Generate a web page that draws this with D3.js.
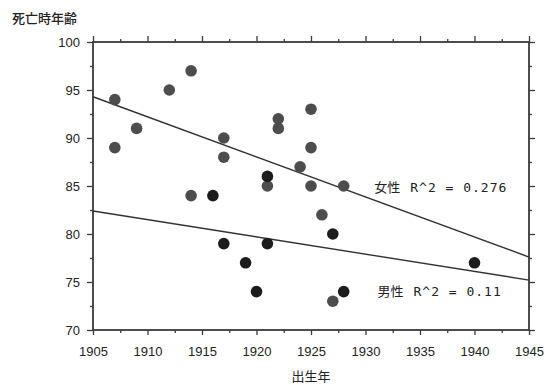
<!DOCTYPE html>
<html>
<head>
<meta charset="utf-8">
<script src="https://cdn.jsdelivr.net/npm/d3@7"></script>
<style>
  body { margin: 0; background: #fff; }
  svg { display: block; }
</style>
</head>
<body>
<svg id="chart" width="547" height="385"></svg>
<script>
// birth year / age at death
const femaleYears = [1907, 1907, 1909, 1912, 1914, 1914, 1917, 1917, 1921, 1922, 1922, 1924, 1925, 1925, 1925, 1926, 1928, 1927];
const femaleAges  = [94, 89, 91, 95, 97, 84, 90, 88, 85, 92, 91, 87, 93, 89, 85, 82, 85, 73];
const maleYears = [1916, 1917, 1919, 1920, 1921, 1921, 1927, 1928, 1940];
const maleAges  = [84, 79, 77, 74, 86, 79, 80, 74, 77];

// fitted trend lines (value at 1905 and 1945)
const fitYears = [1905, 1945];
const femaleFit = [94.3, 77.6];
const maleFit = [82.4, 75.2];

const xTicks = [1905, 1910, 1915, 1920, 1925, 1930, 1935, 1940, 1945];
const yTicks = [70, 75, 80, 85, 90, 95, 100];

const svg = d3.select("#chart");
const fontTick = "'Liberation Sans', Arial, sans-serif";
const fontCJK = "'Noto Sans CJK JP', sans-serif";

const x = d3.scaleLinear().domain([1905, 1945]).range([93, 529]);
const y = d3.scaleLinear().domain([70, 100]).range([330, 42]);

const axisColor = "#3a3a3a";

// minor ticks every 2.5 units, majors every 5
const xMinor = d3.range(1905, 1945.1, 2.5).filter(v => v % 5 !== 0);
const yMinor = d3.range(70, 100.1, 2.5).filter(v => v % 5 !== 0);

const styleAxis = (g) => {
  g.select(".domain").remove();
  g.selectAll("line").attr("stroke", axisColor).attr("stroke-width", 1.3);
  g.selectAll("text")
    .attr("font-family", fontTick)
    .attr("font-size", 13)
    .attr("fill", "#222");
};

// bottom
svg.append("g")
  .attr("transform", `translate(0,${y(70)})`)
  .call(d3.axisBottom(x).tickValues(xTicks).tickFormat(d3.format("d")).tickSize(5).tickPadding(12))
  .call(styleAxis);
svg.append("g")
  .attr("transform", `translate(0,${y(70)})`)
  .call(d3.axisBottom(x).tickValues(xMinor).tickFormat("").tickSize(3))
  .call(styleAxis);

// top
svg.append("g")
  .attr("transform", `translate(0,${y(100)})`)
  .call(d3.axisTop(x).tickValues(xTicks).tickFormat("").tickSize(6))
  .call(styleAxis);
svg.append("g")
  .attr("transform", `translate(0,${y(100)})`)
  .call(d3.axisTop(x).tickValues(xMinor).tickFormat("").tickSize(3))
  .call(styleAxis);

// left
svg.append("g")
  .attr("transform", `translate(${x(1905)},0)`)
  .call(d3.axisLeft(y).tickValues(yTicks).tickSize(6).tickPadding(7))
  .call(styleAxis);
svg.append("g")
  .attr("transform", `translate(${x(1905)},0)`)
  .call(d3.axisLeft(y).tickValues(yMinor).tickFormat("").tickSize(3))
  .call(styleAxis);

// right
svg.append("g")
  .attr("transform", `translate(${x(1945)},0)`)
  .call(d3.axisRight(y).tickValues(yTicks).tickFormat("").tickSize(6))
  .call(styleAxis);
svg.append("g")
  .attr("transform", `translate(${x(1945)},0)`)
  .call(d3.axisRight(y).tickValues(yMinor).tickFormat("").tickSize(3))
  .call(styleAxis);

// frame
svg.append("rect")
  .attr("x", x(1905))
  .attr("y", y(100))
  .attr("width", x(1945) - x(1905))
  .attr("height", y(70) - y(100))
  .attr("fill", "none")
  .attr("stroke", axisColor)
  .attr("stroke-width", 1.8);

// trend lines
const line = d3.line().x(d => x(d[0])).y(d => y(d[1]));
[femaleFit, maleFit].forEach(fit => {
  svg.append("path")
    .attr("d", line(fitYears.map((yr, i) => [yr, fit[i]])))
    .attr("fill", "none")
    .attr("stroke", "#333")
    .attr("stroke-width", 1.4);
});

// dots
const drawDots = (years, ages, color) => {
  svg.append("g")
    .selectAll("circle")
    .data(years.map((yr, i) => ({ year: yr, age: ages[i] })))
    .enter()
    .append("circle")
    .attr("cx", d => x(d.year))
    .attr("cy", d => y(d.age))
    .attr("r", 5.8)
    .attr("fill", color);
};
drawDots(femaleYears, femaleAges, "#4d4d4d");
drawDots(maleYears, maleAges, "#1c1c1c");

// annotations
const addLabel = (sex, r2, year, age) => {
  const t = svg.append("text")
    .attr("x", x(year))
    .attr("y", y(age))
    .attr("fill", "#222")
    .attr("font-size", 13);
  t.append("tspan").attr("font-family", fontCJK).text(sex);
  t.append("tspan")
    .attr("dx", 10)
    .attr("font-family", "'DejaVu Sans Mono', monospace")
    .attr("letter-spacing", 1)
    .text(`R^2 = ${r2}`);
};
addLabel("女性", "0.276", 1930.8, 84.4);
addLabel("男性", "0.11", 1931.1, 73.5);

// axis titles
svg.append("text")
  .attr("x", 12)
  .attr("y", 23)
  .attr("font-family", fontCJK)
  .attr("font-size", 13)
  .attr("font-weight", 500)
  .attr("fill", "#222")
  .text("死亡時年齢");

svg.append("text")
  .attr("x", x(1925))
  .attr("y", 381)
  .attr("text-anchor", "middle")
  .attr("font-family", fontCJK)
  .attr("font-size", 13)
  .attr("fill", "#222")
  .text("出生年");
</script>
</body>
</html>
